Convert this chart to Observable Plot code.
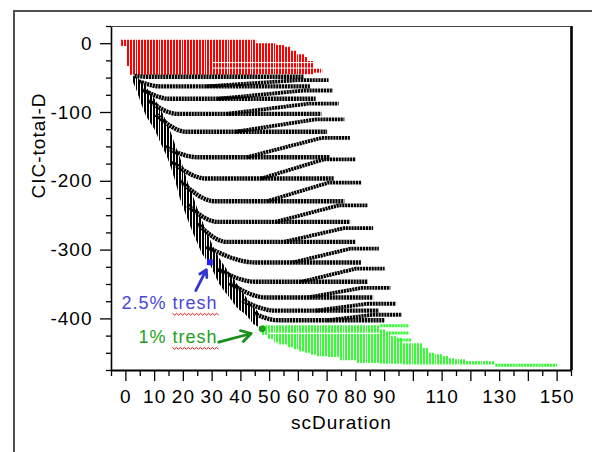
<!DOCTYPE html>
<html><head><meta charset="utf-8">
<script src="https://cdn.jsdelivr.net/npm/d3@7"></script>
<script src="https://cdn.jsdelivr.net/npm/@observablehq/plot@0.6"></script>
<style>
html,body{margin:0;padding:0;background:#fff;width:592px;height:452px;overflow:hidden;}
#wrap{position:relative;width:592px;height:452px;}
#outer{position:absolute;left:13px;top:10px;width:620px;height:480px;border-left:2px solid #505050;border-top:2px solid #505050;}
#chart{position:absolute;left:0;top:0;}
</style></head><body>
<div id="wrap"><div id="outer"></div><div id="chart"></div></div>
<script>
// ---------- axis ticks ----------
const xTickLabels = [0, 10, 20, 30, 40, 50, 60, 70, 80, 90, 110, 130, 150];
const xMajorTicks = [0, 10, 20, 30, 40, 50, 60, 70, 80, 90, 100, 110, 120, 130, 140, 150];
const xMinorTicks = [-5, 5, 15, 25, 35, 45, 55, 65, 75, 85, 95, 105, 115, 125, 135, 145, 155];
const yTickLabels = [0, -100, -200, -300, -400];
const yMinorTicks = [25, -25, -50, -75, -125, -150, -175, -225, -250, -275, -325, -350, -375, -425, -450, -475];

// ---------- red block (top), stepped per integer x ----------
const redX      = [-1.5, 0.5, 1.5, 45.5, 52.5, 55.5, 57.5, 59.5, 62.5, 63.5, 65.5, 68.5];
const redTop    = [5, 5, 5, 0, -2.5, -5, -11, -16, -20, -26, -37, -37];
const redBottom = [-4, -33, -46, -45, -45, -45, -45, -45, -45, -45, -43, -43];
const redGapY   = [-27.5, -35.5];
const redGapX1  = [30, 30];
const redGapX2  = [66, 65];

// ---------- black diagonal band (left edge of the black cloud) ----------
const bandX      = [2.5, 4, 5.5, 7, 8.5, 10, 11.5, 13, 14.5, 16, 17.5, 19, 20.5, 22, 23.5, 25, 26.5, 28, 29.5, 31, 32.5, 34, 35.5, 37, 38.5, 40, 41.5, 43, 44.5, 46.4];
const bandTop    = [-47, -50, -55, -62, -72, -80, -90, -102, -116, -132, -150, -166, -186, -206, -222, -240, -256, -272, -286, -300, -311, -321, -330, -338, -348, -357, -366, -375, -383, -391];
const bandBottom = [-55, -70, -88, -104, -115, -124, -138, -152, -165, -183, -203, -226, -243, -260, -276, -290, -305, -314, -322, -336, -349, -358, -366, -374, -383, -389, -393, -400, -408, -413];

// ---------- black rows (levels) ----------
const levelStartX  = [3, 4.5, 6, 8, 10.5, 13.5, 16, 19, 21.5, 25, 28, 32, 36, 40.5, 44.5];
const levelStartY  = [-47, -55, -67, -83, -103, -150, -172, -200, -235, -262, -295, -328, -348, -373, -392];
const levelMinX    = [8, 12, 15, 18, 21, 25, 28, 31, 32, 35, 45, 45, 49, 52, 53];
const levelFlatY   = [-48, -62, -80, -102, -128, -165, -196, -229, -259, -288, -318, -346, -369, -388, -402];
const levelFlatEnd = [62, 64, 66, 68, 70, 71, 72.5, 76, 78, 80, 82, 84, 86, 88, 90];
const levelBranchX = [null, 28, 32, 35, 38, 42, 47, 49, 52, 55, 58, 61, 63, 66, 70];
const levelTailY   = [-53, -68, -87, -110, -137, -168, -202, -235, -268, -298, -327, -355, -378, -394, null];
const levelTailEnd = [70.5, 72, 74, 76, 78, 80, 82, 84, 86, 88, 90, 92, 94, 96, null];

// ---------- green block (bottom), stepped per integer x ----------
const greenX      = [46.5, 47.5, 49.5, 51.5, 53.5, 56.5, 58.5, 60.5, 62.5, 64.5, 66.5, 70.5, 74.5, 80.5, 88.5, 90.5, 92.5, 94.5, 96.5, 103.5, 105.5, 107.5, 110.5, 112.5, 114.5, 118.5, 128.5];
const greenTop    = [-412, -410, -410, -410, -410, -410, -410, -410, -410, -410, -410, -410, -410, -410, -416, -419, -426, -428, -436, -443, -450, -452, -454.5, -458, -459.5, -462, -462];
const greenBottom = [-418, -424, -430, -435, -438, -442, -445, -448, -450, -453, -455, -456, -461, -465, -466, -466, -466, -466, -467, -467, -467, -467, -467, -467, -467, -467, -467];
const greenRowY   = [-410, -420.5, -430.5, -467.5];
const greenRowX1  = [88.5, 91.5, 94.5, 128.5];
const greenRowX2  = [98.5, 98.5, 99.5, 150];
const greenGapY   = [-421];
const greenGapX1  = [49];
const greenGapX2  = [88.5];

// ---------- thresholds & annotations ----------
const threshX = [29.2, 47.4];
const threshY = [-317.6, -414.4];
const annText  = ["2.5% tresh", "1% tresh"];
const annX     = [15.2, 18.1];
const annY     = [-377, -426.6];
const annColor = ["#4848d8", "#22a022"];
const arrowX1 = [24.3, 32.3];
const arrowY1 = [-358.9, -433.9];
const arrowX2 = [28.0, 43.6];
const arrowY2 = [-328.5, -421.2];
const arrowColor = ["#3434d0", "#1c8e1c"];

// ---------- build tables ----------
const redData = redX.map((x, i) => ({x, y1: redTop[i], y2: redBottom[i]}));
const bandData = bandX.map((x, i) => ({x, y1: bandTop[i], y2: bandBottom[i]}));
const greenData = greenX.map((x, i) => ({x, y1: greenTop[i], y2: greenBottom[i]}));

const flats = [], branches = [];
levelFlatY.forEach((fy, k) => {
  flats.push({id: "f" + k, x: levelStartX[k], y: levelStartY[k]});
  flats.push({id: "f" + k, x: levelMinX[k], y: fy});
  flats.push({id: "f" + k, x: levelFlatEnd[k], y: fy});
  if (levelBranchX[k] != null && levelTailY[k - 1] != null) {
    branches.push({id: "b" + k, x: levelBranchX[k], y: fy});
    branches.push({id: "b" + k, x: levelFlatEnd[k - 1] - 2, y: levelTailY[k - 1]});
    branches.push({id: "b" + k, x: levelTailEnd[k - 1], y: levelTailY[k - 1]});
  }
});
const segs = (ys, x1s, x2s, p) => ys.flatMap((y, i) => [{id: p + i, x: x1s[i], y}, {id: p + i, x: x2s[i], y}]);
const redGaps = segs(redGapY, redGapX1, redGapX2, "r");
const greenRows = segs(greenRowY, greenRowX1, greenRowX2, "g");
const greenGaps = segs(greenGapY, greenGapX1, greenGapX2, "w");
const dots = threshX.map((x, i) => ({x, y: threshY[i]}));
const ann = annText.map((t, i) => ({t, x: annX[i], y: annY[i], c: annColor[i]}));
const arrows = arrowX1.map((x1, i) => ({x1, y1: arrowY1[i], x2: arrowX2[i], y2: arrowY2[i], c: arrowColor[i]}));

const dash = "2.2,0.675";
const rowStyle = {x: "x", y: "y", z: "id", stroke: "black", strokeWidth: 4.4, strokeDasharray: dash, strokeLinecap: "butt", strokeLinejoin: "miter"};
const plot = Plot.plot({
  width: 592, height: 452,
  marginLeft: 111, marginRight: 21, marginTop: 26, marginBottom: 82,
  x: {domain: [-5, 155], axis: null, label: null},
  y: {domain: [-475, 25], axis: null, label: null},
  style: {fontFamily: "'Liberation Sans', Arial, sans-serif", fontSize: "19px", letterSpacing: "1px", color: "black", background: "transparent", overflow: "visible"},
  marks: [
    Plot.areaY(redData, {x: "x", y1: "y1", y2: "y2", curve: "step-after", fill: "url(#st-red)"}),
    Plot.line(redGaps, {x: "x", y: "y", z: "id", stroke: "white", strokeWidth: 1, strokeLinecap: "butt"}),
    Plot.areaY(greenData, {x: "x", y1: "y1", y2: "y2", curve: "step-after", fill: "url(#st-green)"}),
    Plot.line(greenGaps, {x: "x", y: "y", z: "id", stroke: "white", strokeWidth: 1.2, strokeLinecap: "butt"}),
    Plot.line(greenRows, {x: "x", y: "y", z: "id", stroke: "#33ff33", strokeWidth: 3, strokeDasharray: dash, strokeLinecap: "butt"}),
    Plot.areaY(bandData, {x: "x", y1: "y1", y2: "y2", fill: "url(#st-black)"}),
    Plot.line(flats, {...rowStyle, curve: "monotone-x"}),
    Plot.line(branches, {...rowStyle, curve: "linear", strokeWidth: 3.8}),
    Plot.arrow(arrows, {x1: "x1", y1: "y1", x2: "x2", y2: "y2", stroke: "c", strokeWidth: 2.8, headLength: 10}),
    Plot.dot(dots.slice(0, 1), {x: "x", y: "y", symbol: "square", r: 3.3, fill: "#1f1fff"}),
    Plot.dot(dots.slice(1), {x: "x", y: "y", r: 3.4, fill: "#1a9c1a"}),
    Plot.text(ann, {x: "x", y: "y", text: "t", fill: "c", fontSize: 18}),
    // axis lines & frame
    Plot.ruleX([-5], {stroke: "black", strokeWidth: 1.6}),
    Plot.ruleY([-475], {stroke: "black", strokeWidth: 2}),
    Plot.ruleX([155], {stroke: "black", strokeWidth: 2.6}),
    Plot.ruleY([25], {stroke: "#444", strokeWidth: 1.2}),
    // ticks
    Plot.axisX(xMinorTicks, {tickSize: 6, tickFormat: () => "", label: null, strokeWidth: 1.3}),
    Plot.axisX(xMajorTicks, {tickSize: 11, tickPadding: 8, tickFormat: d => xTickLabels.includes(d) ? String(d) : "", label: null, strokeWidth: 1.3}),
    Plot.axisY(yMinorTicks, {tickSize: 5, tickFormat: () => "", label: null, strokeWidth: 1.3}),
    Plot.axisY(yTickLabels, {tickSize: 11, tickPadding: 8, tickFormat: d => String(d), label: null, strokeWidth: 1.3}),
    // axis titles
    Plot.text(["scDuration"], {frameAnchor: "bottom", dy: 58, text: d => d, fontSize: 19}),
    Plot.text(["CIC-total-D"], {frameAnchor: "left", dx: -73, rotate: -90, text: d => d, fontSize: 19})
  ]
});

// pixel-snapped stripe patterns: one bar per integer x (8 units = 23px tile)
const ns = "http://www.w3.org/2000/svg";
const sx = plot.scale("x");
const unit = sx.apply(1) - sx.apply(0);
const tile = 8 * unit;
const barStarts = [0, 3, 6, 9, 12, 14, 17, 20];
const barWidths = [2, 2, 2, 2, 1, 2, 2, 2];
const defs = document.createElementNS(ns, "defs");
[["st-red", "#ff0000"], ["st-black", "#000000"], ["st-green", "#33ff33"]].forEach(([id, col]) => {
  const p = document.createElementNS(ns, "pattern");
  p.setAttribute("id", id);
  p.setAttribute("patternUnits", "userSpaceOnUse");
  p.setAttribute("x", Math.round(sx.apply(0) - 1));
  p.setAttribute("y", 0);
  p.setAttribute("width", tile);
  p.setAttribute("height", 20);
  barStarts.forEach((b, i) => {
    const r = document.createElementNS(ns, "rect");
    r.setAttribute("x", b * tile / 23); r.setAttribute("y", 0);
    r.setAttribute("width", barWidths[i] * tile / 23); r.setAttribute("height", 20);
    r.setAttribute("fill", col);
    r.setAttribute("shape-rendering", "crispEdges");
    p.appendChild(r);
  });
  defs.appendChild(p);
});
plot.insertBefore(defs, plot.firstChild);
document.getElementById("chart").appendChild(plot);

// spell-check style red squiggle under "tresh" (measured from the rendered text)
plot.querySelectorAll("text").forEach(t => {
  const s = t.textContent;
  const i = s.indexOf("tresh");
  if (i < 0) return;
  const a = t.getExtentOfChar(i), b = t.getExtentOfChar(i + 4);
  const x0 = a.x, x1 = b.x + b.width, y = a.y + a.height + 0.5;
  let d = `M${x0},${y}`;
  for (let x = x0, k = 0; x < x1; x += 2, k++) d += ` L${x + 2},${y + (k % 2 ? 0 : 1.8)}`;
  const path = document.createElementNS(ns, "path");
  path.setAttribute("d", d);
  path.setAttribute("fill", "none");
  path.setAttribute("stroke", "#e01010");
  path.setAttribute("stroke-width", "1");
  if (t.getAttribute("transform")) path.setAttribute("transform", t.getAttribute("transform"));
  t.parentNode.appendChild(path);
});
</script></body></html>
